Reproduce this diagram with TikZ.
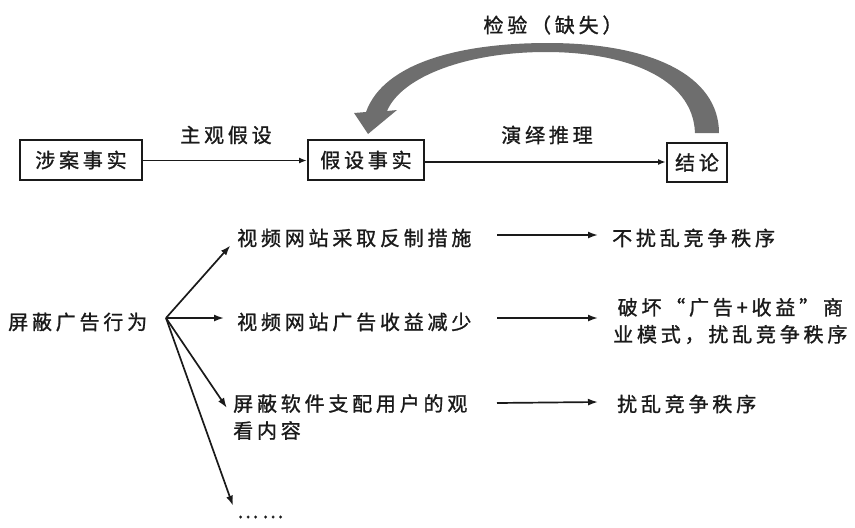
\documentclass[tikz,border=0pt]{standalone}
\usepackage{fontspec}
\setmainfont{Noto Sans CJK SC}[LetterSpace=19,FakeBold=1.2]
\usetikzlibrary{arrows.meta,calc}
\definecolor{arrowgray}{HTML}{6E6E6E}
\definecolor{ink}{HTML}{1A1A1A}
\tikzset{
  box/.style={draw=ink, line width=2pt, minimum height=40pt, inner sep=0pt, font=\fontsize{20}{22}\selectfont, text=ink},
  lbl/.style={inner sep=0pt, font=\fontsize{20}{22}\selectfont, text=ink},
  txt/.style={inner sep=0pt, anchor=west, font=\fontsize{20}{27}\selectfont, text=ink, align=left},
  thinarr/.style={draw=ink, line width=1.6pt, -{Latex[length=8pt,width=6pt]}},
  fanarr/.style={draw=ink, line width=1.7pt, -{Latex[length=10pt,width=7pt]}},
}
\begin{document}
\begin{tikzpicture}[x=1pt,y=-1pt]
\useasboundingbox (0,0) rectangle (855,528);
% top row
\node[box, minimum width=122pt] (fact) at (81,160) {涉案事实};
\node[box, minimum width=116pt] (hyp) at (366,160) {假设事实};
\node[box, minimum width=60pt, minimum height=39pt] (concl) at (697,162.5) {结论};
\draw[thinarr] (fact.east |- 0,160.5) -- (hyp.west |- 0,160.5);
\draw[thinarr] (hyp.east |- 0,162) -- (concl.west |- 0,162);
\node[lbl] (l1) at (226,135) {主观假设};
\node[lbl] (l2) at (547,135) {演绎推理};
\node[lbl] (l3) at (553,25) {检验（缺失）};
% big curved arrow
\fill[arrowgray] (695,133) .. controls (693,76) and (622,52) .. (546,52)
  .. controls (468,52) and (402,76) .. (387,111)
  -- (397,110) -- (368,134) -- (354,113) -- (366,112)
  .. controls (384,62) and (462,43) .. (548,43)
  .. controls (652,43) and (719,76) .. (719,133) -- cycle;
% bottom
\node[lbl, anchor=west] (src) at (8,322) {屏蔽广告行为};
\coordinate (o) at (166,318);
\node[txt] (t1) at (237,238) {视频网站采取反制措施};
\node[txt] (t2) at (237,322) {视频网站广告收益减少};
\node[txt] (t3) at (233,417) {屏蔽软件支配用户的观\\看内容};
\node[txt] (t4) at (237,517) {……};
\draw[fanarr, shorten >=10pt] (o) -- (t1.west);
\draw[fanarr, shorten >=13pt] (o) -- (t2.west |- o);
\draw[fanarr, shorten >=11pt] (o) -- (t3.west);
\draw[fanarr, shorten >=12pt] (o) -- (t4.west);
\coordinate (ca) at (497,0);
\coordinate (cb) at (598,0);
\node[txt] (r1) at (612,238) {不扰乱竞争秩序};
\node[txt, align=center] (r2) at (613,321) {破坏“广告+收益”商\\业模式，扰乱竞争秩序};
\node[txt] (r3) at (617,404) {扰乱竞争秩序};
\draw[fanarr] (t1.east -| ca) ++(0,-3) -- ($(r1.west -| cb)+(0,-3)$);
\draw[fanarr] (t2.east -| ca) ++(0,-4) -- ($(r2.west -| cb)+(0,-3)$);
\draw[fanarr] (t3.east -| ca) ++(0,-14) -- ($(r3.west -| cb)+(0,-2)$);
\end{tikzpicture}
\end{document}
